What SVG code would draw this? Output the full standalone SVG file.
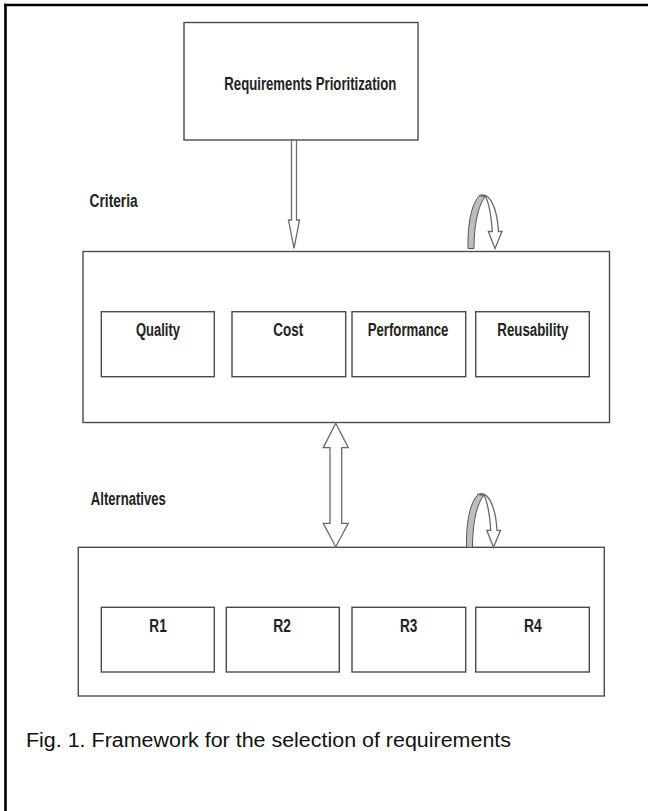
<svg xmlns="http://www.w3.org/2000/svg" width="648" height="811" viewBox="0 0 648 811">
<defs>
<style>
.frame{stroke:#000;stroke-width:2.6;fill:none}
.box{fill:#fff;stroke:#4a4a4a;stroke-width:1.4}
.lbl{font-family:"Liberation Sans",Arial,sans-serif;font-weight:bold;font-size:18px;fill:#222}
.cap{font-family:"Liberation Sans",Arial,sans-serif;font-size:20px;fill:#111}
.arw{fill:#fff;stroke:#6a6a6a;stroke-width:1.3;stroke-linejoin:miter}
.band{fill:#bdbdbd;stroke:#555;stroke-width:1}
</style>
<g id="loopArrow">
<path class="band" d="M468,248.5 C467.5,226 471,203 480,195.5 L485.5,196.5 C478,205 474,226 474,248.5 Z"/>
<path class="arw" d="M480,195.5 C489,192 497,206 498.5,231.5 L502,231.5 L495,248.5 L488.3,231.5 L492.3,231.5 C491,214 489,203 485.5,196.5 Z"/>
</g>
</defs>
<rect width="648" height="811" fill="#fff"/>
<g id="frame">
<line class="frame" x1="4.2" y1="5" x2="648" y2="5"/>
<line class="frame" x1="5.5" y1="3.7" x2="5.5" y2="811"/>
</g>
<g id="node-prioritization">
<rect class="box" x="184" y="22.5" width="234" height="117.5"/>
<text class="lbl" x="224.3" y="90" textLength="172" lengthAdjust="spacingAndGlyphs">Requirements Prioritization</text>
</g>
<g id="label-criteria">
<text class="lbl" x="89.6" y="207" textLength="48" lengthAdjust="spacingAndGlyphs">Criteria</text>
</g>
<g id="node-criteria">
<rect class="box" x="83" y="251.5" width="526.5" height="171"/>
<g id="node-quality">
<rect class="box" x="101.3" y="311.7" width="113" height="65"/>
<text class="lbl" x="136" y="336" textLength="44" lengthAdjust="spacingAndGlyphs">Quality</text>
</g>
<g id="node-cost">
<rect class="box" x="232" y="311.7" width="113.7" height="65"/>
<text class="lbl" x="273.3" y="336" textLength="30" lengthAdjust="spacingAndGlyphs">Cost</text>
</g>
<g id="node-performance">
<rect class="box" x="352" y="311.7" width="113.7" height="65"/>
<text class="lbl" x="367.7" y="336" textLength="80.7" lengthAdjust="spacingAndGlyphs">Performance</text>
</g>
<g id="node-reusability">
<rect class="box" x="475.7" y="311.7" width="113.6" height="65"/>
<text class="lbl" x="497.3" y="336" textLength="71" lengthAdjust="spacingAndGlyphs">Reusability</text>
</g>
</g>
<g id="label-alternatives">
<text class="lbl" x="90.8" y="505" textLength="75" lengthAdjust="spacingAndGlyphs">Alternatives</text>
</g>
<g id="node-alternatives">
<rect class="box" x="78.3" y="547.3" width="526" height="148.7"/>
<g id="node-r1">
<rect class="box" x="101.3" y="607.3" width="113" height="64.7"/>
<text class="lbl" x="149.3" y="631.7" textLength="17.4" lengthAdjust="spacingAndGlyphs">R1</text>
</g>
<g id="node-r2">
<rect class="box" x="226.3" y="607.3" width="113" height="64.7"/>
<text class="lbl" x="273.3" y="631.7" textLength="17.7" lengthAdjust="spacingAndGlyphs">R2</text>
</g>
<g id="node-r3">
<rect class="box" x="352" y="607.3" width="113.7" height="64.7"/>
<text class="lbl" x="400" y="631.7" textLength="17.3" lengthAdjust="spacingAndGlyphs">R3</text>
</g>
<g id="node-r4">
<rect class="box" x="475.7" y="607.3" width="113.6" height="64.7"/>
<text class="lbl" x="524" y="631.7" textLength="17.7" lengthAdjust="spacingAndGlyphs">R4</text>
</g>
</g>
<g id="connectors">
<path id="arrow-down" class="arw" d="M291.5,140 L296.5,140 L296.5,220 L299.5,220 L294,248.5 L288.5,220 L291.5,220 Z"/>
<path id="arrow-both" class="arw" d="M335.7,423.3 L348.3,447.7 L341.7,447.7 L341.7,523.3 L348.3,523.3 L335.7,546.7 L323.3,523.3 L330,523.3 L330,447.7 L323.3,447.7 Z"/>
<use id="loop-criteria" href="#loopArrow"/>
<use id="loop-alternatives" href="#loopArrow" transform="translate(-1.5,298.8)"/>
</g>
<g id="caption">
<text class="cap" x="26" y="746.7" textLength="485" lengthAdjust="spacingAndGlyphs">Fig. 1. Framework for the selection of requirements</text>
</g>
</svg>
